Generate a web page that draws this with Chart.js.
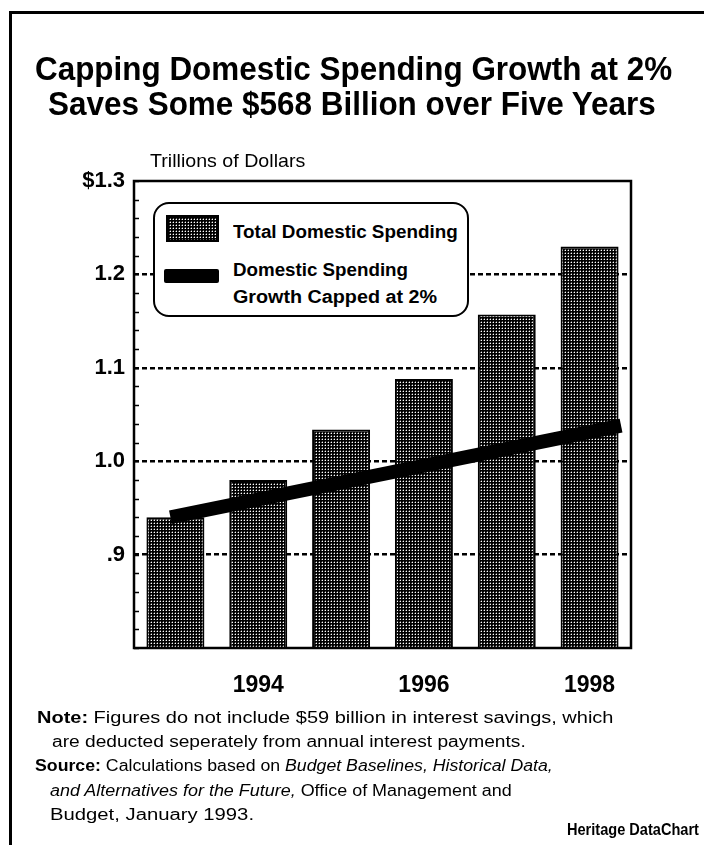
<!DOCTYPE html>
<html>
<head>
<meta charset="utf-8">
<script src="https://cdn.jsdelivr.net/npm/chart.js@4.4.1/dist/chart.umd.min.js"></script>
<style>
  html, body { margin:0; padding:0; background:#fff; }
  #wrap { position:relative; width:704px; height:845px; overflow:hidden; background:#fff; font-family:"Liberation Sans", Arial, sans-serif; color:#000; }
  #c { position:absolute; left:0; top:0; }
  .t { position:absolute; white-space:nowrap; transform-origin:0 50%; line-height:1; }
  .title { font-weight:bold; font-size:33px; }
  .note { font-size:16px; }
  .leg { font-weight:bold; font-size:18px; }
  #frameL { position:absolute; left:9px; top:11px; width:3px; height:834px; background:#000; }
  #frameT { position:absolute; left:9px; top:11px; width:695px; height:3px; background:#000; }
  #legend { position:absolute; left:153px; top:202px; width:312px; height:111px; border:2.5px solid #000; border-radius:16px; background:#fff; }
  #swBar { position:absolute; left:166px; top:215px; width:53px; height:27px; }
  #swLine { position:absolute; left:164px; top:269px; width:55px; height:14px; background:#000; border-radius:2px; }
</style>
</head>
<body>
<div id="wrap">
  <canvas id="c" width="704" height="845"></canvas>
  <div id="frameL"></div>
  <div id="frameT"></div>

  <div class="t title" data-x="35" data-y="68" data-w="637">Capping Domestic Spending Growth at 2%</div>
  <div class="t title" data-x="48" data-y="103" data-w="608">Saves Some $568 Billion over Five Years</div>

  <div class="t" style="font-size:19px" data-x="150" data-y="160" data-w="155">Trillions of Dollars</div>

  <div id="legend"></div>
  <canvas id="swBar" width="53" height="27"></canvas>
  <div id="swLine"></div>
  <div class="t leg" data-x="233" data-y="232" data-w="225">Total Domestic Spending</div>
  <div class="t leg" data-x="233" data-y="270" data-w="175">Domestic Spending</div>
  <div class="t leg" data-x="233" data-y="297" data-w="204">Growth Capped at 2%</div>

  <div class="t note" data-x="37" data-y="718" data-w="577"><b>Note:</b> Figures do not include $59 billion in interest savings, which</div>
  <div class="t note" data-x="52" data-y="742" data-w="474">are deducted seperately from annual interest payments.</div>
  <div class="t note" data-x="35" data-y="766" data-w="518"><b>Source:</b> Calculations based on <i>Budget Baselines, Historical Data,</i></div>
  <div class="t note" data-x="50" data-y="791" data-w="462"><i>and Alternatives for the Future,</i> Office of Management and</div>
  <div class="t note" data-x="50" data-y="815" data-w="204">Budget, January 1993.</div>
  <div class="t note" style="font-weight:bold" data-x="567" data-y="830" data-w="132">Heritage DataChart</div>
</div>
<script>
// ---------- data ----------
const years = [1993, 1994, 1995, 1996, 1997, 1998];
const totalSpending = [0.940, 0.980, 1.034, 1.088, 1.157, 1.230];
const capYears = [1992.94, 1998.38];
const capValues = [0.940, 1.038];
const xTickYears = [1994, 1996, 1998];
const yTickValues = [0.9, 1.0, 1.1, 1.2, 1.3];
const yTickLabels = ['.9', '1.0', '1.1', '1.2', '$1.3'];

// ---------- text placement ----------
document.querySelectorAll('.t').forEach(el => {
  const x = +el.dataset.x, y = +el.dataset.y, w = +el.dataset.w;
  const h = el.offsetHeight;
  el.style.left = x + 'px';
  el.style.top = (y - h / 2) + 'px';
  const nat = el.scrollWidth;
  if (w && nat) el.style.transform = 'scaleX(' + (w / nat) + ')';
});

// ---------- halftone pattern ----------
function makePattern(ctx) {
  const p = document.createElement('canvas');
  p.width = 3; p.height = 3;
  const g = p.getContext('2d');
  g.fillStyle = '#000'; g.fillRect(0, 0, 3, 3);
  g.fillStyle = '#fff'; g.fillRect(1, 1, 1, 1);
  g.fillStyle = '#5a5a5a'; g.fillRect(0, 1, 1, 1); g.fillRect(1, 0, 1, 1);
  return ctx.createPattern(p, 'repeat');
}
const sw = document.getElementById('swBar').getContext('2d');
sw.fillStyle = makePattern(sw); sw.fillRect(0, 0, 53, 27);
sw.strokeStyle = '#000'; sw.lineWidth = 2; sw.strokeRect(1, 1, 51, 25);

const ctx = document.getElementById('c').getContext('2d');
const pattern = makePattern(ctx);

const frame = {
  id: 'frame',
  afterDatasetsDraw(chart) {
    const a = chart.chartArea, c = chart.ctx, y = chart.scales.y;
    c.save();
    c.strokeStyle = '#000';
    c.lineWidth = 1.5;
    for (let v = 0.8; v < 1.3 + 1e-9; v += 0.02) {
      const py = Math.round(y.getPixelForValue(v)) + 0.5;
      c.beginPath(); c.moveTo(a.left, py); c.lineTo(a.left + 5, py); c.stroke();
    }
    c.lineWidth = 2.5;
    c.strokeRect(a.left, a.top, a.right - a.left, a.bottom - a.top);
    c.restore();
  }
};

const tickFont = "'Liberation Sans', Arial, sans-serif";

new Chart(ctx, {
  data: {
    datasets: [
      {
        type: 'line',
        data: capYears.map((x, i) => ({ x: x, y: capValues[i] })),
        borderColor: '#000',
        borderWidth: 14,
        borderCapStyle: 'butt',
        pointRadius: 0,
        tension: 0,
        order: 0
      },
      {
        type: 'bar',
        data: years.map((x, i) => ({ x: x, y: totalSpending[i] })),
        backgroundColor: pattern,
        borderColor: '#000',
        borderWidth: 2,
        borderSkipped: false,
        categoryPercentage: 1,
        barPercentage: 0.7,
        order: 1
      }
    ]
  },
  options: {
    responsive: false,
    animation: false,
    events: [],
    layout: { padding: { left: 0, top: 181, right: 73, bottom: 137 } },
    plugins: { legend: { display: false }, tooltip: { enabled: false }, title: { display: false } },
    scales: {
      x: {
        type: 'linear',
        min: 1992.5, max: 1998.5,
        offset: false,
        afterBuildTicks: s => { s.ticks = xTickYears.map(v => ({ value: v })); },
        afterFit: s => { s.height = 60; },
        grid: { display: false, drawTicks: false },
        border: { display: false },
        ticks: {
          color: '#000',
          padding: 24,
          font: { family: tickFont, size: 23, weight: 'bold' },
          callback: v => String(v)
        }
      },
      y: {
        type: 'linear',
        min: 0.8, max: 1.3,
        afterBuildTicks: s => { s.ticks = [0.8].concat(yTickValues).map(v => ({ value: v })); },
        afterFit: s => { s.width = 134; },
        grid: {
          drawTicks: false,
          lineWidth: 2.5,
          color: c => (c.tick && (Math.abs(c.tick.value - 0.8) < 1e-6 || Math.abs(c.tick.value - 1.3) < 1e-6)) ? 'rgba(0,0,0,0)' : '#000'
        },
        border: { display: false, dash: [5, 3] },
        ticks: {
          color: '#000',
          padding: 9,
          font: { family: tickFont, size: 22, weight: 'bold' },
          callback: v => {
            const i = yTickValues.findIndex(t => Math.abs(t - v) < 1e-6);
            return i < 0 ? '' : yTickLabels[i];
          }
        }
      }
    }
  },
  plugins: [frame]
});
</script>
</body>
</html>
